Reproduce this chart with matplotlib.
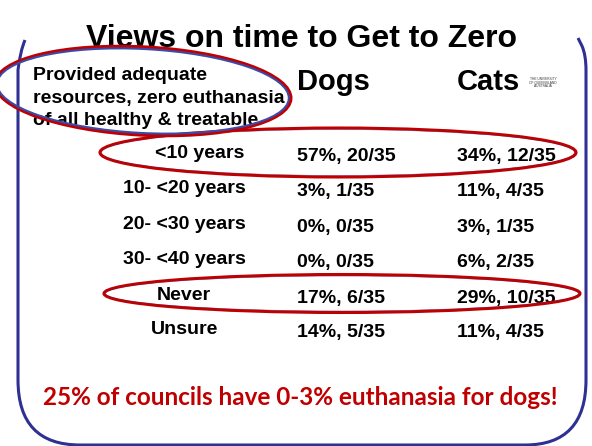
import matplotlib
matplotlib.use("Agg")
import matplotlib.pyplot as plt
from matplotlib.patches import Ellipse, PathPatch
from matplotlib.path import Path

# ---- data ----
title = "Views on time to Get to Zero"
condition_lines = ["Provided adequate", "resources, zero euthanasia", "of all healthy & treatable"]
species = ["Dogs", "Cats"]
categories = ["<10 years", "10- <20 years", "20- <30 years", "30- <40 years", "Never", "Unsure"]
dogs_pct = [57, 3, 0, 0, 17, 14]
dogs_n = [20, 1, 0, 0, 6, 5]
cats_pct = [34, 11, 3, 6, 29, 11]
cats_n = [12, 4, 1, 2, 10, 4]
total = 35
highlighted = ["<10 years", "Never"]
footnote = "25% of councils have 0-3% euthanasia for dogs!"
logo_lines = ["THE UNIVERSITY", "OF QUEENSLAND", "AUSTRALIA"]

# ---- layout ----
W, H = 592, 446
label_x = [155, 123, 123, 123, 157, 151]
label_base = [158, 193, 229, 264, 300, 334]
value_offset = 3
dogs_x, cats_x = 297, 457
BLUE = "#2f3192"
RED = "#c00000"
FONT = "Liberation Sans"

fig = plt.figure(figsize=(W / 100, H / 100), dpi=100)
ax = fig.add_axes([0, 0, 1, 1])
ax.set_xlim(0, W)
ax.set_ylim(H, 0)
ax.axis("off")

# frame (open-topped rounded box)
verts = [(25, 40), (20, 52), (18, 70), (18, 380), (18, 445), (80, 445), (80, 445),
         (525, 445), (525, 445), (586, 445), (586, 380), (586, 70), (586, 55), (582, 46), (578, 38)]
codes = [Path.MOVETO, Path.CURVE3, Path.CURVE3, Path.LINETO, Path.CURVE3, Path.CURVE3, Path.LINETO,
         Path.LINETO, Path.LINETO, Path.CURVE3, Path.CURVE3, Path.LINETO, Path.CURVE3, Path.CURVE3, Path.LINETO]
ax.add_patch(PathPatch(Path(verts, codes), fill=False, edgecolor=BLUE, lw=2.2, zorder=1))

# title
ax.text(301, 47, title, ha="center", va="baseline", fontsize=23, fontweight="bold", family=FONT)

# condition text
for i, line in enumerate(condition_lines):
    ax.text(33, 80 + i * 22.5, line, ha="left", va="baseline", fontsize=14, fontweight="bold", family=FONT)

# headers
ax.text(dogs_x, 90, species[0], ha="left", va="baseline", fontsize=21, fontweight="bold", family=FONT)
ax.text(cats_x, 90, species[1], ha="left", va="baseline", fontsize=21, fontweight="bold", family=FONT)
for i, line in enumerate(logo_lines):
    ax.text(543, 79 + i * 3.6, line, ha="center", va="center", fontsize=2.3, family=FONT, color="#333333")

# rows
for i, cat in enumerate(categories):
    ax.text(label_x[i], label_base[i], cat, ha="left", va="baseline", fontsize=14, fontweight="bold", family=FONT)
    yb = label_base[i] + value_offset
    ax.text(dogs_x, yb, f"{dogs_pct[i]}%, {dogs_n[i]}/{total}", ha="left", va="baseline",
            fontsize=14, fontweight="bold", family=FONT)
    ax.text(cats_x, yb, f"{cats_pct[i]}%, {cats_n[i]}/{total}", ha="left", va="baseline",
            fontsize=14, fontweight="bold", family=FONT)

# highlight ellipses
ell_geom = {"<10 years": (338, 152.5, 476, 49), "Never": (342, 293.5, 476, 38)}
for cat in highlighted:
    cx, cy, w, h = ell_geom[cat]
    ax.add_patch(Ellipse((cx, cy), w, h, fill=False, edgecolor=RED, lw=2.2, zorder=3))
    ax.add_patch(Ellipse((cx, cy), w - 3, h - 3, fill=False, edgecolor="#6a2050", lw=0.5, alpha=0.6, zorder=3))

# condition ellipse (red outer, blue inner)
ax.add_patch(Ellipse((143, 91), 296, 88, angle=3, fill=False, edgecolor=RED, lw=2.4, zorder=3))
ax.add_patch(Ellipse((143, 91), 292, 84, angle=3, fill=False, edgecolor="#3a4aa8", lw=1.5, zorder=3))

# footnote
ax.text(300, 405, footnote, ha="center", va="baseline", fontsize=17.5, fontweight="bold",
        family="Lato", color=RED)

fig.savefig("out.png", dpi=100)
